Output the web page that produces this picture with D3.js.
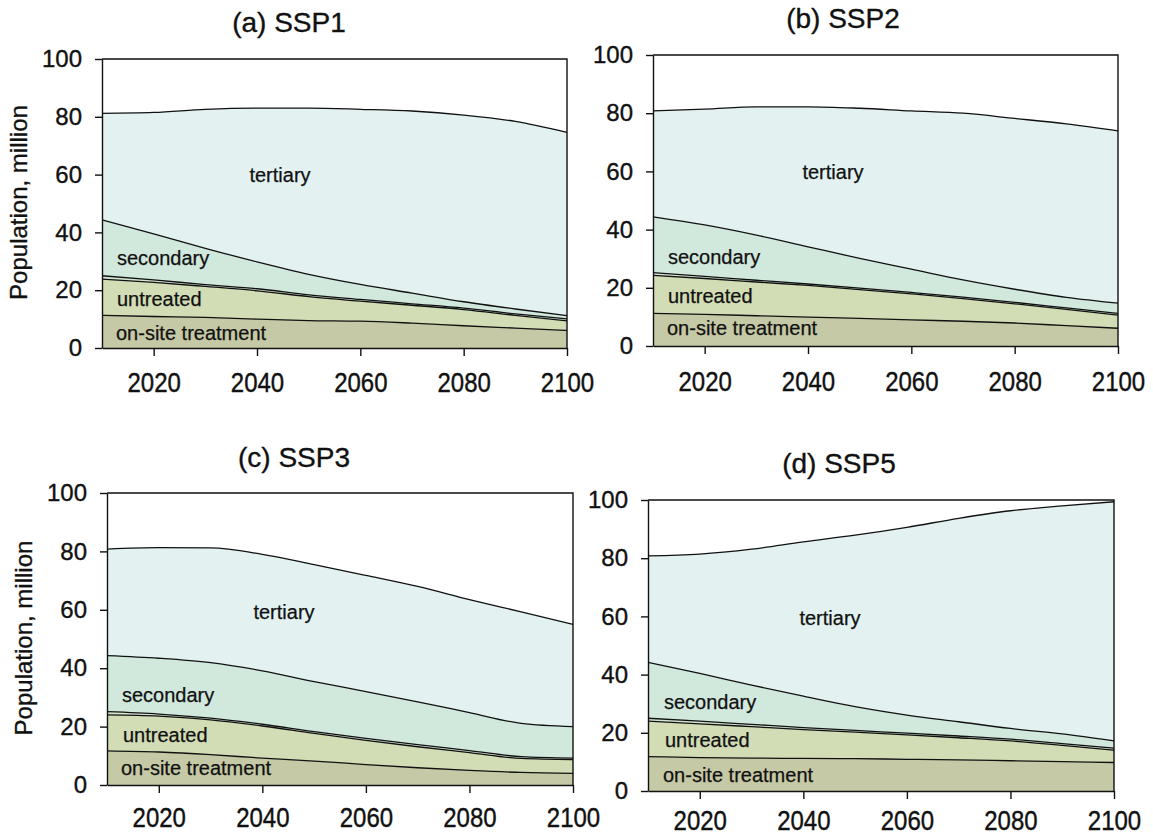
<!DOCTYPE html>
<html>
<head>
<meta charset="utf-8">
<script src="https://cdn.jsdelivr.net/npm/d3@7"></script>
<style>
  html, body { margin: 0; padding: 0; background: #fff; }
  svg { display: block; font-family: "Liberation Sans", Arial, sans-serif; }
</style>
</head>
<body>
<svg id="chart" width="1153" height="838"></svg>
<script>
// Population by wastewater treatment level, million people
const years = [2010, 2020, 2030, 2040, 2050, 2060, 2070, 2080, 2090, 2100];
const layerKeys = ["onsite", "untreated", "primary", "secondary", "tertiary"];
const panelTitles = ["(a) SSP1", "(b) SSP2", "(c) SSP3", "(d) SSP5"];
const yTicks = [0, 20, 40, 60, 80, 100];
const xTicks = [2020, 2040, 2060, 2080, 2100];

// SSP1
const ssp1Onsite    = [11.3, 10.9, 10.6, 10.0, 9.5, 9.3, 8.6, 7.7, 6.9, 6.1];
const ssp1Untreated = [12.5, 11.8, 10.7, 9.8, 8.3, 6.9, 6.2, 5.6, 4.4, 3.3];
const ssp1Primary   = [1.2, 0.9, 0.6, 0.7, 0.6, 0.6, 0.5, 0.5, 0.5, 0.7];
const ssp1Secondary = [19.3, 15.9, 12.6, 9.3, 7.1, 5.2, 3.7, 2.2, 1.7, 1.1];
const ssp1Tertiary  = [36.9, 42.0, 48.1, 53.2, 57.5, 60.6, 63.0, 64.6, 64.9, 63.4];

// SSP2
const ssp2Onsite    = [11.2, 10.9, 10.4, 9.9, 9.5, 9.0, 8.5, 7.9, 7.0, 6.1];
const ssp2Untreated = [13.1, 12.3, 11.6, 10.9, 9.9, 8.9, 7.8, 6.6, 5.6, 4.5];
const ssp2Primary   = [0.9, 0.7, 0.6, 0.5, 0.5, 0.5, 0.5, 0.5, 0.5, 0.6];
const ssp2Secondary = [19.2, 17.7, 15.5, 12.8, 10.2, 8.0, 5.9, 4.5, 3.6, 3.5];
const ssp2Tertiary  = [36.4, 39.8, 44.1, 48.1, 51.6, 54.4, 57.3, 58.7, 59.6, 59.2];

// SSP3
const ssp3Onsite    = [11.7, 11.3, 10.4, 9.2, 8.2, 7.0, 5.9, 5.0, 4.3, 4.0];
const ssp3Untreated = [12.3, 12.3, 11.9, 11.0, 9.5, 8.3, 7.2, 6.1, 4.8, 4.7];
const ssp3Primary   = [1.1, 0.7, 0.6, 0.6, 0.6, 0.7, 0.7, 0.7, 0.6, 0.5];
const ssp3Secondary = [19.2, 19.1, 19.0, 18.3, 17.1, 16.0, 14.7, 13.0, 11.4, 10.8];
const ssp3Tertiary  = [36.5, 37.9, 39.3, 39.9, 40.1, 39.8, 39.5, 38.7, 38.2, 35.0];

// SSP5
const ssp5Onsite    = [11.8, 11.5, 11.3, 11.2, 11.1, 10.9, 10.7, 10.4, 10.1, 9.8];
const ssp5Untreated = [12.2, 11.6, 10.8, 9.9, 9.1, 8.4, 7.6, 6.8, 5.6, 4.2];
const ssp5Primary   = [1.0, 0.9, 0.8, 0.7, 0.6, 0.6, 0.6, 0.6, 0.6, 0.7];
const ssp5Secondary = [19.2, 16.4, 13.5, 10.8, 8.2, 6.2, 4.9, 3.7, 3.3, 2.5];
const ssp5Tertiary  = [36.6, 41.0, 46.7, 53.0, 58.9, 64.5, 69.9, 74.8, 78.4, 82.2];

const seriesByPanel = [
  [ssp1Onsite, ssp1Untreated, ssp1Primary, ssp1Secondary, ssp1Tertiary],
  [ssp2Onsite, ssp2Untreated, ssp2Primary, ssp2Secondary, ssp2Tertiary],
  [ssp3Onsite, ssp3Untreated, ssp3Primary, ssp3Secondary, ssp3Tertiary],
  [ssp5Onsite, ssp5Untreated, ssp5Primary, ssp5Secondary, ssp5Tertiary]
];

// Panel frames and text placement
const layout = [
  { left: 102, right: 567, top: 59, bottom: 348, titleX: 289, titleY: 32, yLabelX: 27, xLabOff: 44,
    tert: [280, 175], sec: [117, 258], unt: [117, 299], ons: [116, 333] },
  { left: 653, right: 1118, top: 55, bottom: 346, titleX: 843, titleY: 28, yLabelX: null, xLabOff: 45,
    tert: [833, 172], sec: [668, 257], unt: [668, 296], ons: [667, 328] },
  { left: 107, right: 573, top: 493, bottom: 785, titleX: 294, titleY: 467, yLabelX: 32, xLabOff: 42,
    tert: [284, 612], sec: [122, 695], unt: [123, 735], ons: [121, 768] },
  { left: 648, right: 1114, top: 500, bottom: 791, titleX: 839, titleY: 473, yLabelX: null, xLabOff: 39,
    tert: [830, 618], sec: [664, 702], unt: [665, 740], ons: [663, 775] }
];

const fills = {
  onsite: "#c6c9a5",
  untreated: "#d2ddb6",
  primary: "#d3e4cf",
  secondary: "#d1e9dd",
  tertiary: "#e3f2f1"
};
const ink = "#111";

const svg = d3.select("#chart");
const stack = d3.stack().keys(layerKeys);

function inkText(sel, size) {
  return sel.attr("fill", ink)
    .attr("stroke", ink)
    .attr("stroke-width", 0.35)
    .style("font-family", "'Liberation Sans', Arial, sans-serif")
    .style("font-size", size + "px");
}

seriesByPanel.forEach((series, p) => {
  const L = layout[p];
  const rows = years.map((yr, i) => {
    const r = { year: yr };
    layerKeys.forEach((k, j) => { r[k] = series[j][i]; });
    return r;
  });
  const stacked = stack(rows);

  const x = d3.scaleLinear().domain([2010, 2100]).range([L.left, L.right]);
  const y = d3.scaleLinear().domain([0, 100]).range([L.bottom, L.top]);

  const g = svg.append("g");

  const area = d3.area()
    .x(d => x(d.data.year))
    .y0(d => y(d[0]))
    .y1(d => y(d[1]))
    .curve(d3.curveMonotoneX);
  const line = d3.line()
    .x(d => x(d.data.year))
    .y(d => y(d[1]))
    .curve(d3.curveMonotoneX);

  g.selectAll("path.layer")
    .data(stacked)
    .join("path")
    .attr("class", "layer")
    .attr("fill", d => fills[d.key])
    .attr("d", area);

  g.selectAll("path.edge")
    .data(stacked)
    .join("path")
    .attr("class", "edge")
    .attr("fill", "none")
    .attr("stroke", ink)
    .attr("stroke-width", 1.3)
    .attr("d", line);

  // frame: top and right borders
  g.append("path")
    .attr("fill", "none")
    .attr("stroke", ink)
    .attr("stroke-width", 1.4)
    .attr("d", `M${L.left},${L.top}H${L.right}V${L.bottom}`);

  const yAxis = g.append("g")
    .attr("transform", `translate(${L.left},0)`)
    .call(d3.axisLeft(y).tickValues(yTicks).tickSize(7).tickSizeOuter(0).tickPadding(13));
  const xAxis = g.append("g")
    .attr("transform", `translate(0,${L.bottom})`)
    .call(d3.axisBottom(x).tickValues(xTicks).tickFormat(d3.format("d")).tickSize(8).tickSizeOuter(0));

  [yAxis, xAxis].forEach(a => {
    a.selectAll("path, line").attr("stroke", ink).attr("stroke-width", 1.4);
  });
  inkText(yAxis.selectAll("text"), 24);
  inkText(xAxis.selectAll("text"), 24)
    .attr("y", 0)
    .attr("dy", null)
    .attr("transform", `translate(0,${L.xLabOff}) scale(1,1.18)`);

  inkText(g.append("text"), 28)
    .attr("x", L.titleX).attr("y", L.titleY)
    .attr("text-anchor", "middle")
    .text(panelTitles[p]);

  if (L.yLabelX !== null) {
    const cy = (L.top + L.bottom) / 2 - 1;
    inkText(g.append("text"), 24)
      .attr("transform", `translate(${L.yLabelX},${cy}) rotate(-90)`)
      .attr("text-anchor", "middle")
      .text("Population, million");
  }

  const lab = (pos, txt, anchor) => inkText(g.append("text"), 20)
    .attr("stroke-width", 0.25)
    .attr("x", pos[0]).attr("y", pos[1])
    .attr("dy", "0.35em")
    .attr("text-anchor", anchor)
    .text(txt);
  lab(L.tert, "tertiary", "middle");
  lab(L.sec, "secondary", "start");
  lab(L.unt, "untreated", "start");
  lab(L.ons, "on-site treatment", "start");
});
</script>
</body>
</html>
